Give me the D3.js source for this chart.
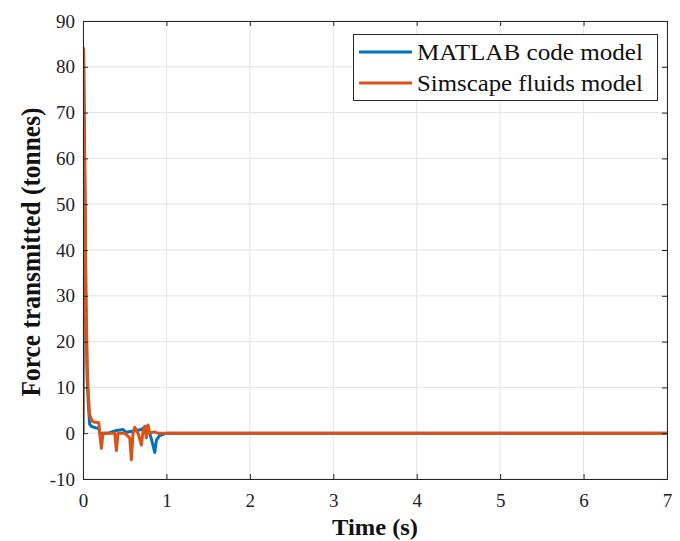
<!DOCTYPE html>
<html><head><meta charset="utf-8">
<script src="https://cdn.jsdelivr.net/npm/d3@7"></script>
<style>body{margin:0;background:#fff;} svg{display:block;}</style>
</head><body>
<script>
// ---- data ----
const seriesNames = ["MATLAB code model", "Simscape fluids model"];
const xTicks = [0, 1, 2, 3, 4, 5, 6, 7];
const yTicks = [-10, 0, 10, 20, 30, 40, 50, 60, 70, 80, 90];

const matlabTime  = [0, 0.006, 0.02, 0.035, 0.05, 0.065, 0.08, 0.1, 0.15, 0.19, 0.2, 0.3, 0.4, 0.48, 0.52, 0.6, 0.7, 0.75, 0.8, 0.83, 0.86, 0.88, 0.92, 1.0, 7.0];
const matlabForce = [0, 83, 58, 28, 12, 6, 2, 1.5, 1.2, 1.0, 0, 0, 0.6, 0.8, 0.2, 0.5, 0.8, 1.5, 0, -2, -4.2, -1.5, -0.5, 0, 0];

const simTime  = [0, 0.008, 0.02, 0.035, 0.05, 0.065, 0.08, 0.1, 0.12, 0.19, 0.2, 0.22, 0.24, 0.38, 0.40, 0.42, 0.5, 0.56, 0.58, 0.60, 0.62, 0.66, 0.70, 0.72, 0.74, 0.76, 0.78, 0.8, 0.85, 0.9, 1.0, 7.0];
const simForce = [0, 84, 60, 30, 15, 8, 4, 3, 2.5, 2.3, 0, -3.3, 0, 0, -3.8, 0, 0, -1, -5.8, 0, 1.3, 0, -2.6, 0.5, 1.5, -1, 1.8, 0, 0.3, 0, 0, 0];

const colors = ["#0072BD", "#D95319"];

// ---- layout ----
const W = 680, H = 541;
const mLeft = 83, mRight = 667, mTop = 21, mBottom = 479;
const serif = "'Liberation Serif','Times New Roman',serif";
const svg = d3.select("body").append("svg").attr("width", W).attr("height", H)
  .style("font-family", serif);

const x = d3.scaleLinear().domain([0, 7]).range([mLeft, mRight]);
const y = d3.scaleLinear().domain([-10, 90]).range([mBottom, mTop]);

// grid
const g = svg.append("g");
g.selectAll(".vg").data(xTicks).join("line")
  .attr("x1", d => x(d)).attr("x2", d => x(d)).attr("y1", mTop).attr("y2", mBottom)
  .attr("stroke", "#e3e3e3").attr("stroke-width", 1);
g.selectAll(".hg").data(yTicks).join("line")
  .attr("y1", d => y(d)).attr("y2", d => y(d)).attr("x1", mLeft).attr("x2", mRight)
  .attr("stroke", "#e3e3e3").attr("stroke-width", 1);

// lines
svg.append("clipPath").attr("id", "c").append("rect")
  .attr("x", mLeft).attr("y", mTop).attr("width", mRight - mLeft).attr("height", mBottom - mTop);
const line = d3.line().x(d => x(d[0])).y(d => y(d[1]));
const matlabPts = matlabTime.map((t, i) => [t, matlabForce[i]]);
const simPts = simTime.map((t, i) => [t, simForce[i]]);
const lg = svg.append("g").attr("clip-path", "url(#c)");
lg.append("path").datum(matlabPts).attr("d", line).attr("fill", "none")
  .attr("stroke", colors[0]).attr("stroke-width", 3).attr("stroke-linejoin", "round");
lg.append("path").datum(simPts).attr("d", line).attr("fill", "none")
  .attr("stroke", colors[1]).attr("stroke-width", 3).attr("stroke-linejoin", "round");

// axes (ticks inward, box)
const axCol = "#262626";
const fmt = d => String(d);
const xAxis = d3.axisBottom(x).tickValues(xTicks).tickSize(-5).tickPadding(15).tickFormat(fmt);
const yAxis = d3.axisLeft(y).tickValues(yTicks).tickSize(-5).tickPadding(8).tickFormat(fmt);
const xa = svg.append("g").attr("transform", `translate(0,${mBottom})`).call(xAxis);
const ya = svg.append("g").attr("transform", `translate(${mLeft},0)`).call(yAxis);
const xt = svg.append("g").attr("transform", `translate(0,${mTop})`).call(d3.axisTop(x).tickValues(xTicks).tickSize(-5).tickFormat(""));
const yr = svg.append("g").attr("transform", `translate(${mRight},0)`).call(d3.axisRight(y).tickValues(yTicks).tickSize(-5).tickFormat(""));
[xa, ya, xt, yr].forEach(a => {
  a.attr("font-family", serif);
  a.select(".domain").attr("stroke", axCol).attr("stroke-width", 1);
  a.selectAll(".tick line").attr("stroke", axCol);
  a.selectAll("text").attr("fill", "#222").style("font-size", "19px")
    .style("font-family", serif);
});

// axis labels
svg.append("text").attr("x", 375).attr("y", 535).attr("text-anchor", "middle")
  .attr("textLength", 86).attr("lengthAdjust", "spacingAndGlyphs")
  .style("font-size", "24px").style("font-weight", "bold").attr("fill", "#111").text("Time (s)");
svg.append("text").attr("transform", `translate(40,252) rotate(-90)`)
  .attr("text-anchor", "middle").attr("textLength", 289).attr("lengthAdjust", "spacingAndGlyphs")
  .style("font-size", "27px").style("font-weight", "bold")
  .attr("fill", "#111").text("Force transmitted (tonnes)");

// legend
const leg = svg.append("g");
leg.append("rect").attr("x", 353.5).attr("y", 34.5).attr("width", 304).attr("height", 66)
  .attr("fill", "#fff").attr("stroke", axCol).attr("stroke-width", 1);
seriesNames.forEach((n, i) => {
  const yy = 52 + i * 31;
  leg.append("line").attr("x1", 359).attr("x2", 412).attr("y1", yy).attr("y2", yy)
    .attr("stroke", colors[i]).attr("stroke-width", 3);
  leg.append("text").attr("x", 417).attr("y", yy).attr("dy", "0.35em")
    .attr("textLength", 226).attr("lengthAdjust", "spacingAndGlyphs")
    .style("font-size", "24px").attr("fill", "#111").text(n);
});
</script>
</body></html>
